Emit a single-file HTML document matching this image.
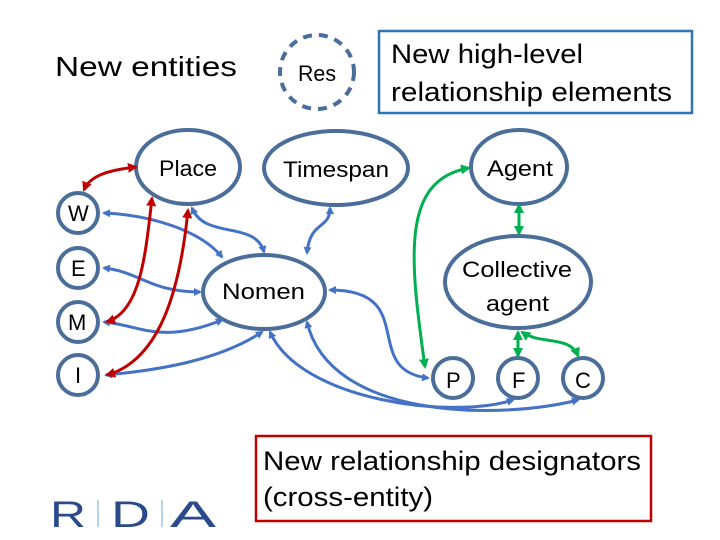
<!DOCTYPE html>
<html><head><meta charset="utf-8"><style>html,body{margin:0;padding:0;background:#fff}svg{display:block}text{font-family:"Liberation Sans",sans-serif;fill:#000}</style></head><body>
<svg width="720" height="540" viewBox="0 0 720 540" xmlns="http://www.w3.org/2000/svg">
<defs>
<marker id="b" markerWidth="8" markerHeight="8" refX="6" refY="4" orient="auto-start-reverse" markerUnits="userSpaceOnUse"><path d="M0,0 L8,4 L0,8 z" fill="#4472c4"/></marker>
<marker id="r" markerWidth="10" markerHeight="10" refX="8" refY="5" orient="auto-start-reverse" markerUnits="userSpaceOnUse"><path d="M0,0 L10,5 L0,10 z" fill="#c00000"/></marker>
<marker id="g" markerWidth="10" markerHeight="10" refX="8" refY="5" orient="auto-start-reverse" markerUnits="userSpaceOnUse"><path d="M0,0 L10,5 L0,10 z" fill="#00b050"/></marker>
</defs>
<text x="55" y="76" font-size="28" textLength="182" lengthAdjust="spacingAndGlyphs">New entities</text>
<circle cx="317" cy="72" r="37" fill="none" stroke="#4a6e99" stroke-width="4" stroke-dasharray="9,7"/>
<text x="298" y="81" font-size="22" textLength="38" lengthAdjust="spacingAndGlyphs">Res</text>
<rect x="379" y="31" width="313" height="82" fill="none" stroke="#2e75b6" stroke-width="2.5"/>
<text x="391" y="63" font-size="27" textLength="192" lengthAdjust="spacingAndGlyphs">New high-level</text>
<text x="391" y="101" font-size="27" textLength="281" lengthAdjust="spacingAndGlyphs">relationship elements</text>
<g fill="none" stroke="#4a6e99" stroke-width="4">
<ellipse cx="188" cy="167" rx="52" ry="37"/>
<ellipse cx="336" cy="168" rx="72" ry="37"/>
<ellipse cx="264" cy="292" rx="61" ry="37"/>
<ellipse cx="519" cy="167" rx="48" ry="37"/>
<ellipse cx="518" cy="282" rx="73" ry="46"/>
<circle cx="78" cy="213" r="20"/><circle cx="78" cy="268" r="20"/><circle cx="78" cy="322" r="20"/><circle cx="78" cy="375" r="20"/>
<circle cx="453" cy="378" r="20"/><circle cx="518" cy="378" r="20"/><circle cx="583" cy="378" r="20"/>
</g>
<g font-size="22">
<text x="159" y="176" textLength="58" lengthAdjust="spacingAndGlyphs">Place</text>
<text x="283" y="177" textLength="106" lengthAdjust="spacingAndGlyphs">Timespan</text>
<text x="222" y="299" textLength="83" lengthAdjust="spacingAndGlyphs">Nomen</text>
<text x="487" y="176" textLength="66" lengthAdjust="spacingAndGlyphs">Agent</text>
<text x="462" y="277" textLength="110" lengthAdjust="spacingAndGlyphs">Collective</text>
<text x="486" y="311" textLength="63" lengthAdjust="spacingAndGlyphs">agent</text>
<text x="68" y="221">W</text><text x="71" y="276">E</text><text x="68" y="330">M</text><text x="75" y="383">I</text>
<text x="446" y="388">P</text><text x="512" y="388">F</text><text x="575" y="388">C</text>
</g>
<g fill="none" stroke="#4472c4" stroke-width="3" marker-start="url(#b)" marker-end="url(#b)">
<path d="M104,213 C150,215 200,230 222,257"/>
<path d="M192,208 C205,240 255,220 264,252"/>
<path d="M330,208 C330,230 310,220 307,253"/>
<path d="M104,268 C140,272 150,292 200,292"/>
<path d="M104,322 C140,325 160,345 222,320"/>
<path d="M106,375 C160,370 220,360 262,332"/>
<path d="M330,290 C420,290 360,370 428,378"/>
<path d="M270,332 C300,400 450,420 513,400"/>
<path d="M307,322 C330,420 500,420 578,400"/>
</g>
<g fill="none" stroke="#c00000" stroke-width="3" marker-start="url(#r)" marker-end="url(#r)">
<path d="M136,167 C110,170 90,175 84,190"/>
<path d="M152,198 C145,260 140,310 107,322"/>
<path d="M188,210 C180,290 160,360 107,375"/>
</g>
<g fill="none" stroke="#00b050" stroke-width="3" marker-start="url(#g)" marker-end="url(#g)">
<path d="M469,168 C400,180 410,260 425,367"/>
<path d="M519,205 L519,234"/>
<path d="M518,332 L518,356"/>
<path d="M522,332 C540,345 570,335 578,356"/>
</g>
<rect x="256" y="436" width="395" height="85" fill="none" stroke="#c00000" stroke-width="2.5"/>
<text x="263" y="470" font-size="27" textLength="378" lengthAdjust="spacingAndGlyphs">New relationship designators</text>
<text x="263" y="506" font-size="27" textLength="170" lengthAdjust="spacingAndGlyphs">(cross-entity)</text>
<g font-size="37">
<text x="50" y="527" textLength="36" lengthAdjust="spacingAndGlyphs" style="fill:#2a4a8c">R</text>
<text x="111" y="527" textLength="39" lengthAdjust="spacingAndGlyphs" style="fill:#2a4a8c">D</text>
<text x="170" y="527" textLength="46" lengthAdjust="spacingAndGlyphs" style="fill:#2a4a8c">A</text>
</g>
<line x1="98" y1="500" x2="98" y2="527" stroke="#9dc3e6" stroke-width="1.5"/>
<line x1="162" y1="500" x2="162" y2="527" stroke="#9dc3e6" stroke-width="1.5"/>
</svg>
</body></html>
